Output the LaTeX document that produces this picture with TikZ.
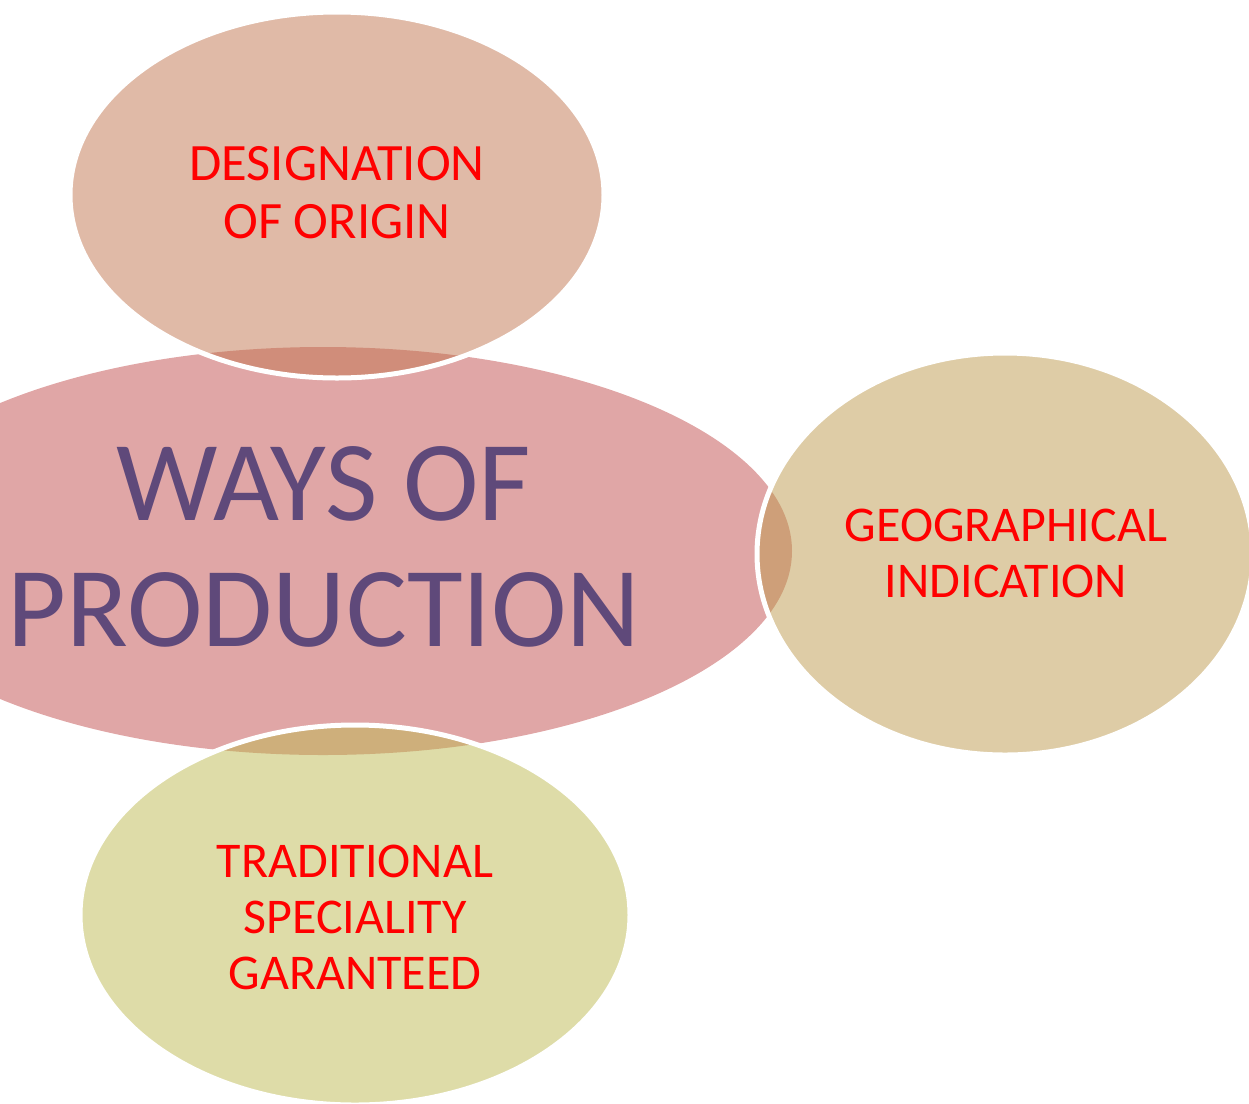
\documentclass[tikz,border=0pt]{standalone}
\usepackage{fontspec}
\setmainfont{Carlito}
\definecolor{centerfill}{RGB}{224,166,166}
\definecolor{topfill}{RGB}{193,117,79}
\definecolor{rightfill}{RGB}{189,153,77}
\definecolor{bottomfill}{RGB}{189,185,81}
\definecolor{titlepurple}{RGB}{95,73,122}
\definecolor{labelred}{RGB}{255,0,0}
\tikzset{
  satellite/.style={fill opacity=0.5, draw=white, line width=5pt},
  label/.style={text=labelred, align=center, inner sep=0pt,
    font=\fontsize{50}{56}\selectfont},
  title/.style={text=titlepurple, align=center, inner sep=0pt,
    font=\fontsize{114}{126}\selectfont}
}
\begin{document}
\begin{tikzpicture}[x=1pt,y=-1pt]
\useasboundingbox (0,0) rectangle (1249,1103);
\clip (0,0) rectangle (1249,1103);
% central ellipse
\fill[centerfill] (323,551) ellipse [x radius=469pt, y radius=204pt];
% satellites
\path[satellite, fill=topfill] (337,195) ellipse [x radius=267pt, y radius=183pt];
\path[satellite, fill=rightfill] (1005,554) ellipse [x radius=248pt, y radius=201pt];
\path[satellite, fill=bottomfill] (355,915) ellipse [x radius=275pt, y radius=190pt];
% texts
\node[title] (ways) at (324,547) {WAYS OF\\PRODUCTION};
\node[label, font=\fontsize{52.5}{58}\selectfont] (doo) at (337,193) {DESIGNATION\\OF ORIGIN};
\node[label] (gi) at (1006,553) {GEOGRAPHICAL\\INDICATION};
\node[label] (tsg) at (355,917) {TRADITIONAL\\SPECIALITY\\GARANTEED};
\end{tikzpicture}
\end{document}
